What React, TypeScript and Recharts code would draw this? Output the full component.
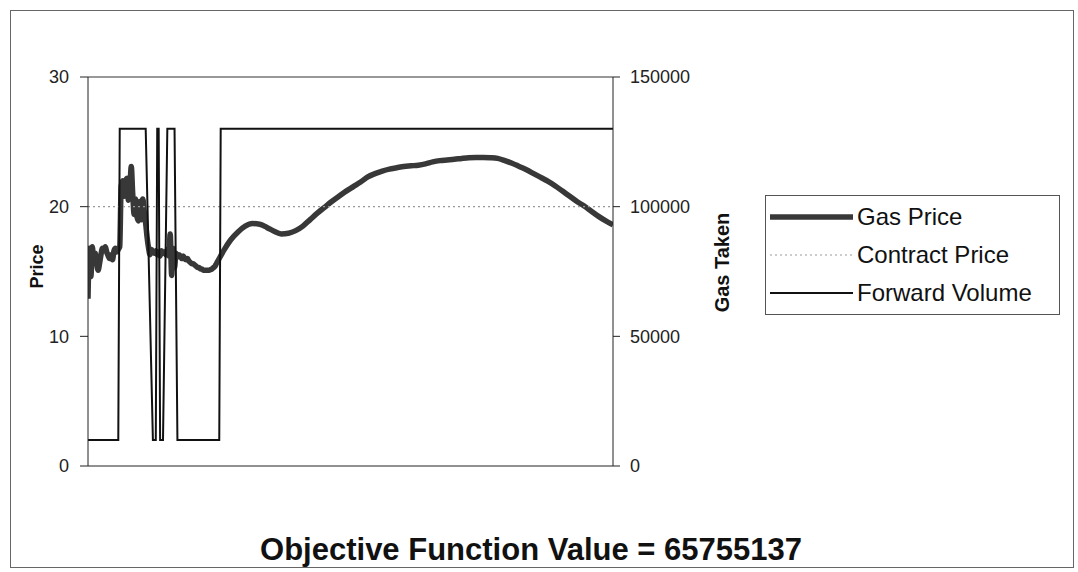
import { LineChart, Line, XAxis, YAxis, Legend, ReferenceLine } from "recharts";

const FONT = '"Liberation Sans", Arial, sans-serif';

// Gas price, one value per day for days 1-94 (the noisy stretch)
const gasPriceDaily = [
  12.9, 16.8, 14.6, 16.9, 15.8, 16.4, 15.6, 15.1, 15.6, 16.3,
  16.8, 16.6, 16.9, 16.5, 16.2, 16.0, 16.3, 15.9, 16.6, 16.8,
  16.5, 16.7, 16.9, 21.6, 22.0, 20.8, 21.9, 22.2, 20.5, 21.4,
  23.1, 21.0, 19.4, 20.6, 19.2, 18.9, 20.4, 19.0, 20.6, 19.6,
  18.7, 17.6, 16.8, 16.3, 16.7, 16.5, 16.4, 16.6, 16.3, 16.5,
  16.2, 16.6, 16.4, 16.5, 16.3, 16.7, 16.2, 17.9, 14.7, 16.8,
  15.3, 16.4, 16.1, 16.3, 16.2, 16.0, 16.2, 16.0, 15.9, 16.0,
  15.8, 15.7, 15.6, 15.6, 15.5, 15.4, 15.3, 15.3, 15.2, 15.2,
  15.1, 15.1, 15.1, 15.1, 15.1, 15.15, 15.2, 15.3, 15.4, 15.6,
  15.8, 16.0, 16.2, 16.4,
];

// Gas price every 5 days from day 95 to day 365 (smooth stretch)
const gasPrice5Day = [
  16.6, 17.45, 18.05, 18.5, 18.7, 18.65, 18.4, 18.1, 17.9, 17.95,
  18.15, 18.5, 19.0, 19.5, 19.95, 20.4, 20.8, 21.2, 21.55, 21.9,
  22.3, 22.55, 22.75, 22.9, 23.0, 23.1, 23.15, 23.2, 23.3, 23.45,
  23.55, 23.6, 23.65, 23.72, 23.78, 23.8, 23.8, 23.78, 23.72, 23.55,
  23.35, 23.1, 22.85, 22.55, 22.25, 21.95, 21.6, 21.2, 20.8, 20.4,
  20.05, 19.65, 19.25, 18.9, 18.6,
];

const contractDays = [1, 365];
const contractPrice = [20, 20];

// Forward volume corner points (day, volume)
const forwardDays = [1, 22, 23, 41, 46, 48, 49, 50, 51, 53, 56, 61, 63, 92, 93, 365];
const forwardVolume = [
  10000, 10000, 130000, 130000, 10000, 10000, 130000, 130000, 10000, 10000,
  130000, 130000, 10000, 10000, 130000, 130000,
];

const priceTicks = [0, 10, 20, 30];
const volumeTicks = [0, 50000, 100000, 150000];

const gasData = [
  ...gasPriceDaily.map((price, i) => ({ day: i + 1, price })),
  ...gasPrice5Day.map((price, i) => ({ day: 95 + i * 5, price })),
];
const contractData = contractDays.map((day, i) => ({ day, contract: contractPrice[i] }));
const volumeData = forwardDays.map((day, i) => ({ day, volume: forwardVolume[i] }));

const legendOrder = ["price", "contract", "volume"];
const legendStyle: Record<string, { stroke: string; width: number; dash?: string }> = {
  price: { stroke: "#383838", width: 5.5 },
  contract: { stroke: "#999", width: 1.2, dash: "2 3" },
  volume: { stroke: "#111", width: 2 },
};

const renderLegend = (props: any) => {
  const items = [...(props.payload || [])].sort(
    (a: any, b: any) => legendOrder.indexOf(a.dataKey) - legendOrder.indexOf(b.dataKey)
  );
  return (
    <div
      style={{
        width: 295,
        height: 120,
        boxSizing: "border-box",
        border: "1px solid #555",
        background: "#fff",
        paddingTop: 2,
        fontFamily: FONT,
      }}
    >
      {items.map((entry: any) => {
        const st = legendStyle[entry.dataKey];
        return (
          <div key={entry.dataKey} style={{ display: "flex", alignItems: "center", height: 38 }}>
            <svg width={88} height={10} style={{ display: "block" }}>
              <line x1={4} x2={87} y1={5} y2={5} stroke={st.stroke} strokeWidth={st.width} strokeDasharray={st.dash} />
            </svg>
            <span style={{ fontSize: 24, color: "#111", marginLeft: 3, lineHeight: "38px" }}>{entry.value}</span>
          </div>
        );
      })}
    </div>
  );
};

export default function App() {
  return (
    <div
      style={{
        position: "absolute",
        left: 10,
        top: 10,
        width: 1062,
        height: 556,
        border: "1px solid #666",
        background: "#fff",
        fontFamily: FONT,
      }}
    >
      <LineChart width={1062} height={520} margin={{ top: 66, right: 340, bottom: 64, left: 17 }}>
        <XAxis
          type="number"
          dataKey="day"
          domain={[1, 365]}
          tick={false}
          tickLine={false}
          height={1}
          axisLine={{ stroke: "#222" }}
          allowDataOverflow
        />
        <YAxis
          yAxisId="price"
          domain={[0, 30]}
          ticks={priceTicks}
          width={60}
          tickSize={8}
          tickMargin={11}
          tick={{ fontSize: 18, fill: "#222", fontFamily: FONT }}
          axisLine={{ stroke: "#222" }}
          tickLine={{ stroke: "#222" }}
          label={({ viewBox }: any) => {
            const x = viewBox.x + 9;
            const y = viewBox.y + viewBox.height / 2 - 5;
            return (
              <text x={x} y={y} transform={`rotate(-90 ${x} ${y})`} textAnchor="middle" dominantBaseline="central"
                style={{ fontSize: 18, fontWeight: "bold", fill: "#111", fontFamily: FONT }}>
                Price
              </text>
            );
          }}
        />
        <YAxis
          yAxisId="volume"
          orientation="right"
          domain={[0, 150000]}
          ticks={volumeTicks}
          width={120}
          tickSize={7}
          tickMargin={10}
          tick={{ fontSize: 18, fill: "#222", fontFamily: FONT }}
          axisLine={{ stroke: "#222" }}
          tickLine={{ stroke: "#222" }}
          label={({ viewBox }: any) => {
            const x = viewBox.x + 109;
            const y = viewBox.y + viewBox.height / 2 - 9;
            return (
              <text x={x} y={y} transform={`rotate(-90 ${x} ${y})`} textAnchor="middle" dominantBaseline="central"
                style={{ fontSize: 20, fontWeight: "bold", fill: "#111", fontFamily: FONT }}>
                Gas Taken
              </text>
            );
          }}
        />
        {/* top edge of the plot area */}
        <ReferenceLine yAxisId="price" y={30} stroke="#333" />
        <Legend
          layout="vertical"
          align="center"
          verticalAlign="middle"
          content={renderLegend}
          wrapperStyle={{ left: 754, top: 184, width: 295, height: 120 }}
        />
        <Line
          yAxisId="price"
          data={gasData}
          dataKey="price"
          name="Gas Price"
          type="monotone"
          stroke="#383838"
          strokeWidth={5.5}
          dot={false}
          isAnimationActive={false}
        />
        <Line
          yAxisId="price"
          data={contractData}
          dataKey="contract"
          name="Contract Price"
          type="linear"
          stroke="#999"
          strokeWidth={1.2}
          strokeDasharray="2 3"
          dot={false}
          isAnimationActive={false}
        />
        <Line
          yAxisId="volume"
          data={volumeData}
          dataKey="volume"
          name="Forward Volume"
          type="linear"
          stroke="#111"
          strokeWidth={2}
          dot={false}
          isAnimationActive={false}
        />
      </LineChart>
      <div
        style={{
          position: "absolute",
          left: 0,
          top: 522,
          width: 1040,
          textAlign: "center",
          fontSize: 31,
          fontWeight: "bold",
          color: "#111",
          lineHeight: "34px",
        }}
      >
        Objective Function Value = 65755137
      </div>
    </div>
  );
}
